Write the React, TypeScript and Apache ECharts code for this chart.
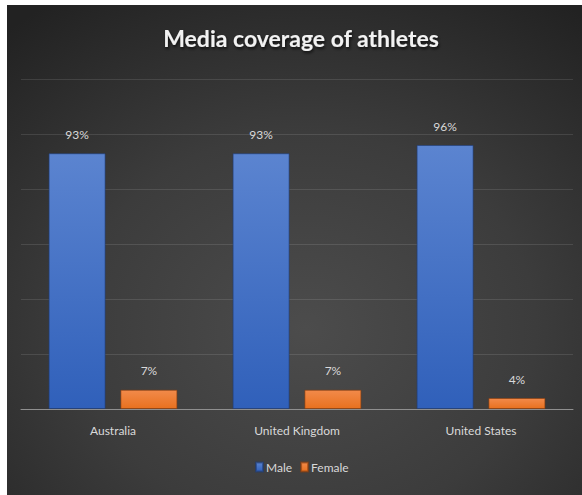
import React, { useEffect, useRef } from "react";
import * as echarts from "echarts";

const categories = ["Australia", "United Kingdom", "United States"];
const maleValues = [93, 93, 96];
const femaleValues = [7, 7, 4];
const seriesNames = ["Male", "Female"];

export default function App() {
  const ref = useRef<HTMLDivElement>(null);
  useEffect(() => {
    document.body.style.margin = "0";
    const chart = echarts.init(ref.current!, null, { renderer: "svg" });
    const font = "Lato, 'Open Sans', sans-serif";
    chart.setOption({
      animation: false,
      backgroundColor: "#ffffff",
      graphic: [
        {
          type: "rect",
          z: -10,
          silent: true,
          shape: { x: 7, y: 5, width: 575, height: 490 },
          style: {
            fill: new echarts.graphic.RadialGradient(0.52, 0.66, 0.8, [
              { offset: 0, color: "#4c4c4c" },
              { offset: 0.5, color: "#3c3c3c" },
              { offset: 1, color: "#222222" },
            ]),
          },
        },
      ],
      title: {
        text: "Media coverage of athletes",
        left: 296,
        textAlign: "center",
        top: 21,
        textStyle: {
          color: "#f2f2f2",
          fontFamily: font,
          fontWeight: "bold",
          fontSize: 23,
          textShadowColor: "rgba(0,0,0,0.7)",
          textShadowBlur: 3,
          textShadowOffsetX: 1,
          textShadowOffsetY: 2,
        },
      },
      legend: {
        data: seriesNames,
        left: 255,
        top: 461,
        padding: 0,
        icon: "rect",
        itemWidth: 7,
        itemHeight: 9,
        itemGap: 8,
        textStyle: { color: "#d9d9d9", fontFamily: font, fontSize: 12, padding: [0, 0, 0, -2] },
      },
      grid: { left: 21, right: 9, top: 79, bottom: 86, containLabel: false },
      xAxis: {
        type: "category",
        data: categories,
        axisLine: { lineStyle: { color: "#8f8f8f", width: 1 } },
        axisTick: { show: false },
        axisLabel: { color: "#d9d9d9", fontFamily: font, fontSize: 12, margin: 15 },
      },
      yAxis: {
        type: "value",
        min: 0,
        max: 120,
        interval: 20,
        axisLabel: { show: false },
        axisLine: { show: false },
        axisTick: { show: false },
        splitLine: { lineStyle: { color: "rgba(255,255,255,0.11)", width: 1 } },
      },
      series: [
        {
          name: seriesNames[0],
          type: "bar",
          data: maleValues,
          barWidth: 57,
          barGap: "26%",
          itemStyle: {
            color: new echarts.graphic.LinearGradient(0, 0, 0, 1, [
              { offset: 0, color: "#5b84d0" },
              { offset: 1, color: "#3060ba" },
            ]),
            borderColor: "rgba(30,60,120,0.6)",
            borderWidth: 1,
          },
          label: {
            show: true,
            position: "top",
            distance: 13,
            formatter: "{c}%",
            color: "#d9d9d9",
            fontFamily: font,
            fontSize: 12,
          },
        },
        {
          name: seriesNames[1],
          type: "bar",
          data: femaleValues,
          barWidth: 57,
          itemStyle: {
            color: new echarts.graphic.LinearGradient(0, 0, 0, 1, [
              { offset: 0, color: "#f28a4a" },
              { offset: 1, color: "#e8711f" },
            ]),
            borderColor: "rgba(140,60,10,0.6)",
            borderWidth: 1,
          },
          label: {
            show: true,
            position: "top",
            distance: 13,
            formatter: "{c}%",
            color: "#d9d9d9",
            fontFamily: font,
            fontSize: 12,
          },
        },
      ],
    });
    return () => chart.dispose();
  }, []);
  return <div ref={ref} style={{ width: 582, height: 495 }} />;
}
